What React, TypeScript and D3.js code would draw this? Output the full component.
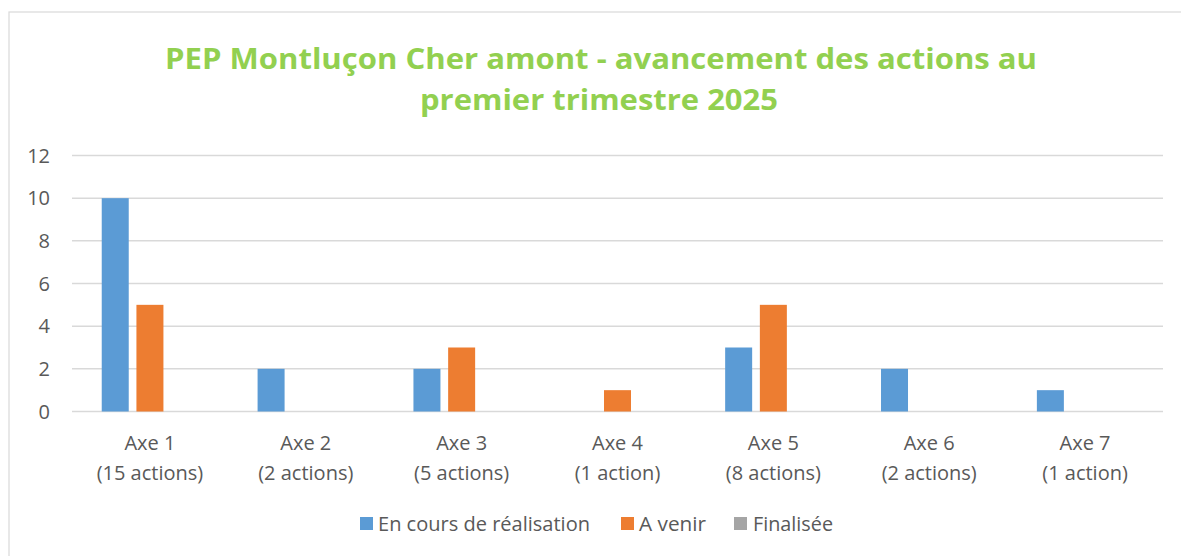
import React from "react";
import * as d3 from "d3";

const categories = ["Axe 1", "Axe 2", "Axe 3", "Axe 4", "Axe 5", "Axe 6", "Axe 7"];
const subLabels = ["(15 actions)", "(2 actions)", "(5 actions)", "(1 action)", "(8 actions)", "(2 actions)", "(1 action)"];
const seriesNames = ["En cours de réalisation", "A venir", "Finalisée"];
const enCours = [10, 2, 2, 0, 3, 2, 1];
const aVenir = [5, 0, 3, 1, 5, 0, 0];
const finalisee = [0, 0, 0, 0, 0, 0, 0];
const yTicks = [0, 2, 4, 6, 8, 10, 12];
const colors = ["#5B9BD5", "#ED7D31", "#A5A5A5"];

const W = 1181;
const H = 556;
const FONT = "'Open Sans', 'Noto Sans', sans-serif";

export default function App() {
  const series = [enCours, aVenir, finalisee];
  const x = d3.scaleBand<string>().domain(categories).range([72, 1163]).paddingInner(0).paddingOuter(0);
  const y = d3.scaleLinear().domain([0, 12]).range([411.5, 155.5]);
  const barW = 27;
  const step = 34.7;

  const legendItems = [
    { sx: 360, tx: 378, len: 212 },
    { sx: 621, tx: 639, len: 67 },
    { sx: 734, tx: 753, len: 80 },
  ];

  return (
    <svg width={W} height={H} style={{ position: "absolute", left: 0, top: 0, background: "#fff" }}>
      <rect x={9} y={12} width={1200} height={600} fill="#fff" stroke="#D9D9D9" strokeWidth={1.2} />
      <text x={601} y={69} textAnchor="middle" fill="#92D050" fontFamily={FONT} fontWeight={700} fontSize={28}
        textLength={872} lengthAdjust="spacingAndGlyphs">
        PEP Montluçon Cher amont - avancement des actions au
      </text>
      <text x={599} y={110} textAnchor="middle" fill="#92D050" fontFamily={FONT} fontWeight={700} fontSize={28}
        textLength={358} lengthAdjust="spacingAndGlyphs">
        premier trimestre 2025
      </text>
      {yTicks.map((t) => (
        <g key={t}>
          <line x1={72} x2={1163} y1={y(t)} y2={y(t)} stroke="#D9D9D9" strokeWidth={1.5} />
          <text x={50} y={y(t) + 7} textAnchor="end" fill="#595959" fontFamily={FONT} fontSize={20}>
            {t}
          </text>
        </g>
      ))}
      {series.map((vals, si) =>
        vals.map((v, ci) => {
          const c = x(categories[ci])! + x.bandwidth() / 2;
          const bx = c + (si - 1) * step - barW / 2;
          if (v <= 0) return null;
          return (
            <rect key={`${si}-${ci}`} x={bx} y={y(v)} width={barW} height={y(0) - y(v)} fill={colors[si]} />
          );
        })
      )}
      {categories.map((cat, i) => {
        const c = x(cat)! + x.bandwidth() / 2;
        return (
          <g key={cat}>
            <text x={c} y={450} textAnchor="middle" fill="#595959" fontFamily={FONT} fontSize={20}>
              {cat}
            </text>
            <text x={c} y={480} textAnchor="middle" fill="#595959" fontFamily={FONT} fontSize={20}>
              {subLabels[i]}
            </text>
          </g>
        );
      })}
      {seriesNames.map((name, i) => (
        <g key={name}>
          <rect x={legendItems[i].sx} y={517} width={13} height={13} fill={colors[i]} />
          <text x={legendItems[i].tx} y={531} fill="#595959" fontFamily={FONT} fontSize={20}
            textLength={legendItems[i].len} lengthAdjust="spacingAndGlyphs">
            {name}
          </text>
        </g>
      ))}
    </svg>
  );
}
